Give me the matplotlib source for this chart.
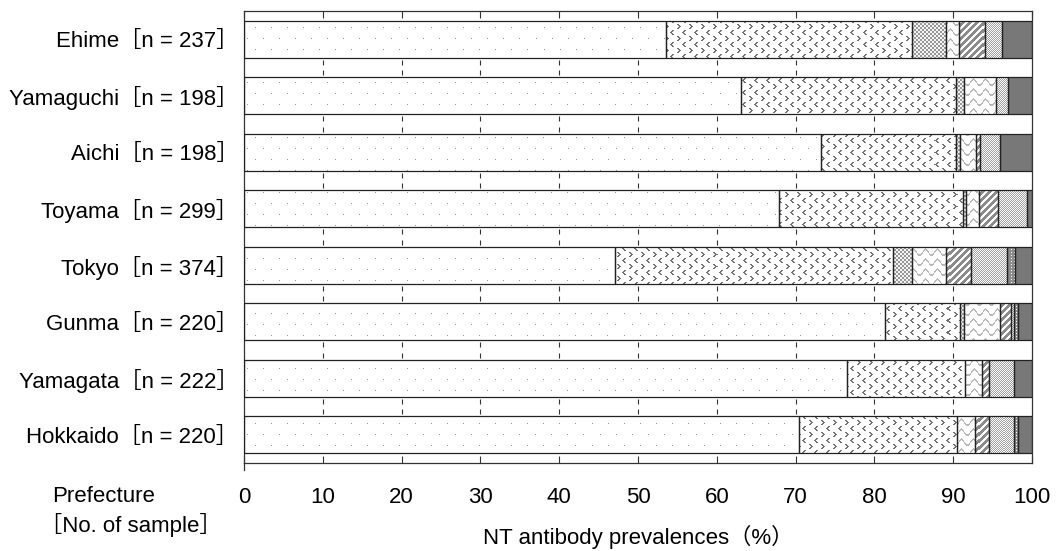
import numpy as np
import matplotlib
matplotlib.use('Agg')
import matplotlib.pyplot as plt

plt.rcParams['font.family'] = ['Liberation Sans', 'Noto Sans CJK JP']

prefectures = ['Ehime', 'Yamaguchi', 'Aichi', 'Toyama', 'Tokyo', 'Gunma', 'Yamagata', 'Hokkaido']
sample_n = [237, 198, 198, 299, 374, 220, 222, 220]

# number of sera in each NT titer class, lowest class first
titer_lt4 = [127, 125, 145, 203, 176, 179, 170, 155]
titer_4 = [74, 54, 34, 70, 132, 21, 33, 44]
titer_8 = [10, 2, 1, 1, 9, 1, 0, 0]
titer_16 = [4, 8, 4, 5, 16, 10, 5, 5]
titer_32 = [8, 0, 1, 7, 12, 3, 2, 4]
titer_64 = [5, 3, 5, 11, 17, 1, 7, 7]
titer_128 = [0, 0, 0, 0, 4, 1, 0, 1]
titer_ge256 = [9, 6, 8, 2, 8, 4, 5, 4]

classes = [titer_lt4, titer_4, titer_8, titer_16, titer_32, titer_64, titer_128, titer_ge256]
fills = ['sparse', 'chevron', 'checker', 'wave', 'diagonal', 'stipple', 'coarse', 'dark']

fig = plt.figure(figsize=(10.56, 5.51), dpi=100)
ax = fig.add_axes([244 / 1056, 1 - 463 / 551, 788 / 1056, 452 / 551])

H, W = 452, 788
yy, xx = np.mgrid[0:H, 0:W]


def texture(kind):
    # greyscale fill patterns, one pixel per array cell
    if kind == 'sparse':
        img = np.ones((H, W))
        row = yy // 11
        img[(yy % 11 == 5) & ((xx + 8 * (row % 2)) % 16 == 3)] = 0.6
    elif kind == 'chevron':
        tile = np.ones((12, 12))
        for r, c in enumerate([0, 1, 2, 1, 0]):
            tile[r + 1, 1 + c:3 + c] = 0.45
            tile[r + 7, 8 - c:10 - c] = 0.45
        img = np.tile(tile, (H // 12 + 1, W // 12 + 1))[:H, :W]
    elif kind == 'checker':
        img = np.where(((xx // 2) + (yy // 2)) % 2 == 0, 0.6, 0.95)
    elif kind == 'wave':
        d = (yy - 3.0 * np.sin(2 * np.pi * xx / 12)) % 10
        img = np.where(d < 2.0, 0.72, 1.0)
    elif kind == 'diagonal':
        img = np.where((xx + yy) % 7 < 3.5, 0.55, 1.0)
    elif kind == 'stipple':
        img = np.where((xx + yy) % 2 == 0, 0.62, 1.0)
    elif kind == 'coarse':
        img = np.where((xx % 3 == 1) & (yy % 3 == 1), 1.0, 0.55)
    else:
        img = np.full((H, W), 0.47)
    return img


ypos = np.arange(len(prefectures))
n = np.array(sample_n, dtype=float)
left = np.zeros(len(prefectures))
bar_h = 0.65

for counts, kind in zip(classes, fills):
    share = np.array(counts) / n * 100
    bars = ax.barh(ypos, share, left=left, height=bar_h, facecolor='none',
                   edgecolor='#222222', linewidth=0.9, zorder=3)
    img = texture(kind)
    for patch, w in zip(bars.patches, share):
        if w <= 0:
            patch.set_visible(False)
            continue
        im = ax.imshow(img, cmap='gray', vmin=0, vmax=1, extent=(0, 100, 7.5, -0.5),
                       aspect='auto', interpolation='nearest', zorder=2)
        im.set_clip_path(patch)
    left += share

ax.set_xlim(0, 100)
ax.set_ylim(len(prefectures) - 0.5, -0.5)

# short tick marks in the gaps between bars
gap_x = np.arange(10, 100, 10)
for i in range(len(prefectures) - 1):
    lo = i + bar_h / 2
    hi = i + 1 - bar_h / 2
    ax.vlines(gap_x, lo + 0.035, lo + 0.125, color='#333333', lw=0.8)
    ax.vlines(gap_x, hi - 0.125, hi - 0.035, color='#333333', lw=0.8)
ax.plot([0, 0], [7.5, 7.62], color='#333333', lw=0.9, clip_on=False)

ax.set_xticks(np.arange(0, 101, 10))
ax.tick_params(axis='x', direction='in', top=True, length=5, width=0.8,
               color='#333333', pad=17, labelsize=16)
ax.set_yticks(ypos, [f'{p}［n = {k}］' for p, k in zip(prefectures, sample_n)])
ax.tick_params(axis='y', length=0, pad=4, labelsize=16)
for s in ax.spines.values():
    s.set_color('#333333')
    s.set_linewidth(0.9)

fig.text(638 / 1056, 1 - 537 / 551, 'NT antibody prevalences（%）', ha='center', va='center', fontsize=16)
fig.text(52 / 1056, 1 - 497 / 551, 'Prefecture', ha='left', va='center', fontsize=16)
fig.text(40 / 1056, 1 - 525 / 551, '［No. of sample］', ha='left', va='center', fontsize=16)

fig.savefig('out.png', dpi=100)
